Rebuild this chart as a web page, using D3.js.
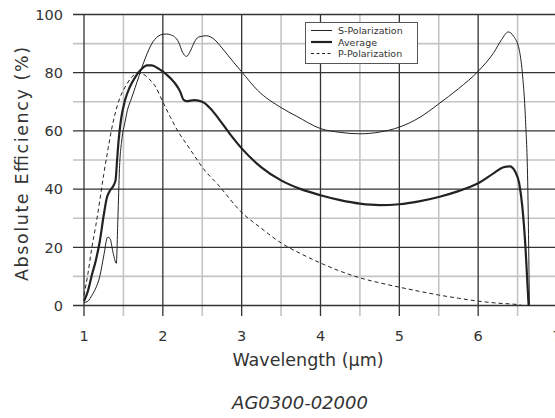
<!DOCTYPE html>
<html><head><meta charset="utf-8">
<script src="https://cdn.jsdelivr.net/npm/d3@7"></script>
<style>body{margin:0;background:#fff}svg{display:block}</style>
</head><body>
<svg id="c" width="555" height="418"></svg>
<script>
const xTicks = [1,2,3,4,5,6,7];
const yTicks = [0,20,40,60,80,100];
const xMinor = [1.5,2.5,3.5,4.5,5.5,6.5];
const yMinor = [10,30,50,70,90];
const seriesNames = ["S-Polarization","Average","P-Polarization"];

const sWave = [1.00,1.05,1.10,1.15,1.20,1.25,1.30,1.33,1.37,1.41,1.43,1.45,1.48,1.52,1.55,1.60,1.65,1.70,1.75,1.80,1.85,1.90,1.95,2.00,2.05,2.10,2.15,2.20,2.25,2.30,2.35,2.40,2.45,2.55,2.65,2.75,2.90,3.00,3.20,3.50,3.70,4.00,4.25,4.50,4.75,5.00,5.25,5.50,5.75,6.00,6.20,6.30,6.38,6.45,6.52,6.56,6.60,6.63,6.65];
const sVal  = [1,1.5,3.5,6,10,17,23.5,23,18,14.5,30,47,57,63,67,71,75,79,83,86.5,89.5,91.5,92.7,93.2,93.3,93,92.3,90.5,87,85.6,87.5,90.5,92.2,92.7,91.5,88.5,83.5,80.3,74,68,65,60.8,59.5,59,59.6,61.3,64.5,69.3,74.5,80.5,87,91.5,94,92.5,88,80,64,40,0];

const aWave = [1.00,1.05,1.10,1.15,1.20,1.25,1.29,1.33,1.37,1.40,1.42,1.44,1.47,1.52,1.58,1.65,1.72,1.80,1.86,1.95,2.05,2.15,2.22,2.26,2.30,2.40,2.50,2.60,2.70,2.85,3.00,3.25,3.50,3.75,4.00,4.25,4.50,4.75,5.00,5.25,5.50,5.75,6.00,6.20,6.32,6.40,6.47,6.52,6.56,6.60,6.62,6.64];
const aVal  = [1.5,5,10.5,15.5,22,31,37,39.5,41,43,50,57,64,70.5,75,78.5,81,82.5,82.5,81.3,79.3,76.5,73.5,70.8,70.2,70.6,70,67.8,64.5,59,54,47.5,43,40,37.9,36.2,35,34.5,34.8,35.8,37.3,39.3,42,45.5,47.5,47.8,46,42,34,20,10,0];

const pWave = [1.00,1.05,1.10,1.15,1.20,1.25,1.30,1.35,1.40,1.45,1.52,1.60,1.68,1.75,1.82,1.90,2.00,2.10,2.20,2.30,2.40,2.50,2.70,3.00,3.25,3.50,3.75,4.00,4.25,4.50,4.75,5.00,5.25,5.50,5.75,6.00,6.25,6.50,6.56];
const pVal  = [3.5,11,20,27.5,36,45,53,60.5,66.5,71,75,78.3,79.8,79.5,78,75.5,70,64.5,59.5,55.5,51.5,47.5,41.5,32,26.5,21.5,17.8,14.6,11.8,9.5,7.8,6.3,4.9,3.6,2.5,1.5,0.8,0.3,0];

const svg = d3.select("#c");
const x = d3.scaleLinear().domain([1,7]).range([84,557]);
const y = d3.scaleLinear().domain([0,100]).range([305.5,14.5]);
const txt = "#333";

const g = svg.append("g");
g.selectAll(".vm").data(xMinor).join("line")
  .attr("x1",d=>x(d)).attr("x2",d=>x(d)).attr("y1",y(100)).attr("y2",316)
  .attr("stroke","#c4c4c4").attr("stroke-width",1.6);
g.selectAll(".hm").data(yMinor).join("line")
  .attr("x1",73).attr("x2",555).attr("y1",d=>y(d)).attr("y2",d=>y(d))
  .attr("stroke","#c4c4c4").attr("stroke-width",1.6);
g.selectAll(".vM").data(xTicks).join("line")
  .attr("x1",d=>x(d)).attr("x2",d=>x(d)).attr("y1",y(100)).attr("y2",316)
  .attr("stroke","#333").attr("stroke-width",1.3);
g.selectAll(".hM").data(yTicks).join("line")
  .attr("x1",73).attr("x2",555).attr("y1",d=>y(d)).attr("y2",d=>y(d))
  .attr("stroke","#333").attr("stroke-width",1.3);

svg.selectAll(".xl").data(xTicks).join("text")
  .attr("x",d=>x(d)).attr("y",341).attr("text-anchor","middle")
  .attr("font-family","DejaVu Sans").attr("font-size",14.5).attr("fill",txt)
  .text(d=>d);
svg.selectAll(".yl").data(yTicks).join("text")
  .attr("x",63).attr("y",d=>y(d)+5.3).attr("text-anchor","end")
  .attr("font-family","DejaVu Sans").attr("font-size",14.5).attr("fill",txt)
  .text(d=>d);

svg.append("text").attr("x",308).attr("y",366).attr("text-anchor","middle")
  .attr("font-family","DejaVu Sans").attr("font-size",17.5).attr("fill",txt)
  .text("Wavelength (\u00b5m)");
svg.append("text").attr("transform","translate(28,164) rotate(-90)").attr("text-anchor","middle")
  .attr("font-family","DejaVu Sans").attr("font-size",17.5).attr("fill",txt)
  .attr("textLength",234).attr("lengthAdjust","spacing")
  .text("Absolute Efficiency (%)");
svg.append("text").attr("x",300).attr("y",409).attr("text-anchor","middle")
  .attr("font-family","DejaVu Sans").attr("font-style","italic").attr("font-size",18).attr("fill",txt)
  .text("AG0300-02000");

const line = d3.line().x(d=>x(d[0])).y(d=>y(d[1])).curve(d3.curveMonotoneX);
const sData = d3.zip(sWave,sVal), aData = d3.zip(aWave,aVal), pData = d3.zip(pWave,pVal);
svg.append("path").attr("d",line(pData)).attr("fill","none").attr("stroke","#222")
  .attr("stroke-width",1).attr("stroke-dasharray","4,3");
svg.append("path").attr("d",line(sData)).attr("fill","none").attr("stroke","#222")
  .attr("stroke-width",1);
svg.append("path").attr("d",line(aData)).attr("fill","none").attr("stroke","#222")
  .attr("stroke-width",2.2);

const lg = svg.append("g");
lg.append("rect").attr("x",305.5).attr("y",22.5).attr("width",112).attr("height",41)
  .attr("fill","#fff").attr("stroke","#555").attr("stroke-width",1);
const styles = [{w:1,d:null},{w:2.2,d:null},{w:1,d:"3,2.5"}];
const ly = [30.5,42,53.5];
seriesNames.forEach((n,i)=>{
  lg.append("line").attr("x1",311).attr("x2",332).attr("y1",ly[i]).attr("y2",ly[i])
    .attr("stroke","#222").attr("stroke-width",styles[i].w).attr("stroke-dasharray",styles[i].d);
  lg.append("text").attr("x",338).attr("y",ly[i]+3.5).attr("font-family","DejaVu Sans")
    .attr("font-size",9.5).attr("fill",txt).text(n);
});
</script>
</body></html>
